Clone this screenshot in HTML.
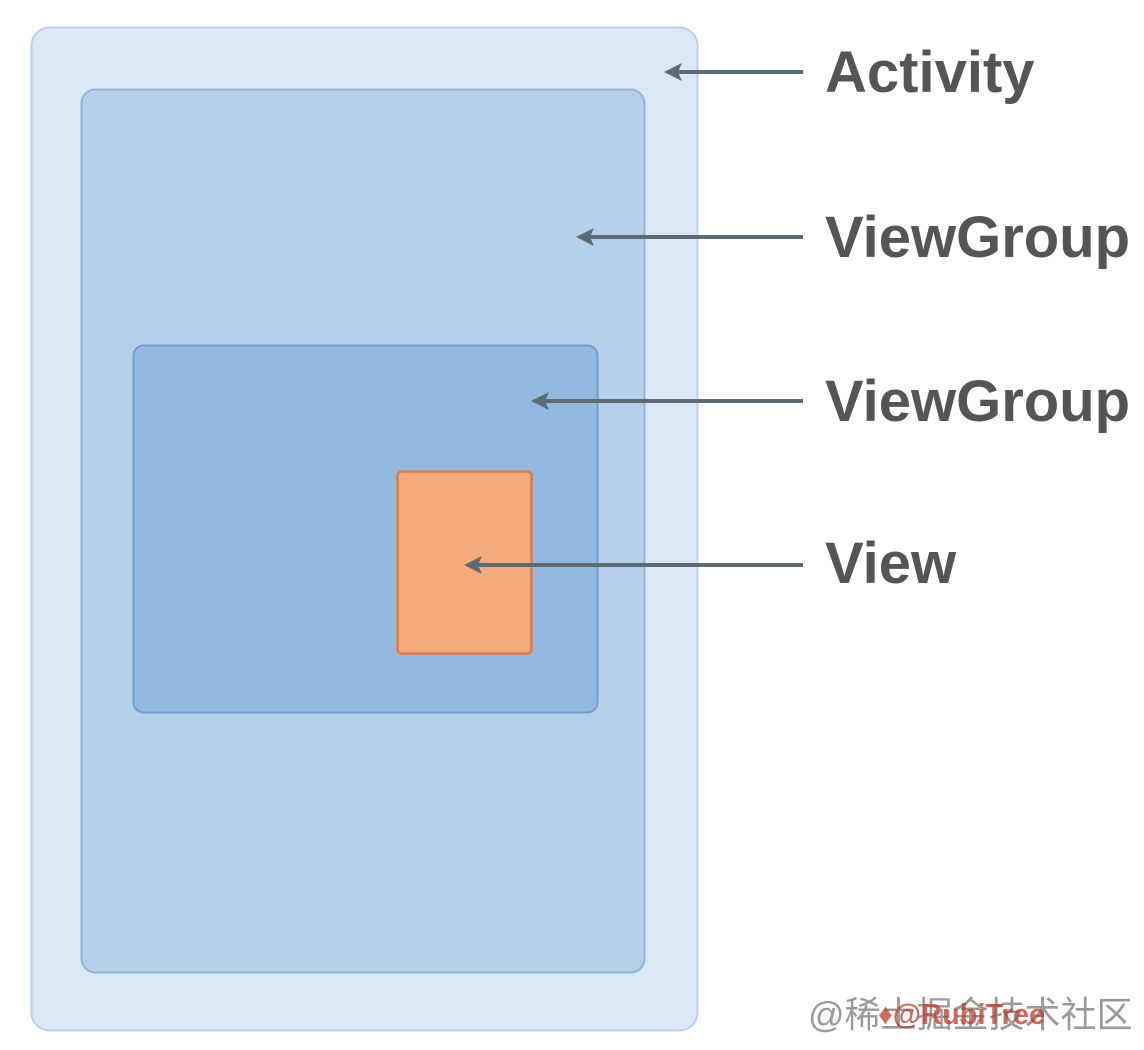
<!DOCTYPE html>
<html><head><meta charset="utf-8"><style>
html,body{margin:0;padding:0;background:#fff;}
svg{display:block;}
</style></head><body>
<svg width="1144" height="1050" viewBox="0 0 1144 1050" xmlns="http://www.w3.org/2000/svg">
<rect x="31.5" y="27.5" width="666" height="1003" rx="18" fill="#dce8f5" stroke="#b9d1ec" stroke-width="2"/>
<rect x="81.5" y="89.5" width="563" height="883" rx="14" fill="#b6d0ea" stroke="#90b5dc" stroke-width="2"/>
<rect x="133.5" y="345.5" width="464" height="367" rx="10" fill="#93b9e1" stroke="#6f9dcf" stroke-width="2"/>
<rect x="397.5" y="471.5" width="134" height="182" rx="4" fill="#f4aa7a" stroke="#e07c3e" stroke-width="2.5"/>
<g stroke="#5f6b73" stroke-width="4" fill="none">
<line x1="803" y1="72" x2="672" y2="72"/>
<line x1="803" y1="237" x2="584" y2="237"/>
<line x1="803" y1="401" x2="539" y2="401"/>
<line x1="803" y1="565" x2="472" y2="565"/>
</g>
<g fill="#5f6b73">
<path d="M664,72 L682,63 L678,72 L682,81 Z"/>
<path d="M576,237 L594,228 L590,237 L594,246 Z"/>
<path d="M531,401 L549,392 L545,401 L549,410 Z"/>
<path d="M464,565 L482,556 L478,565 L482,574 Z"/>
</g>
<g font-family="Liberation Sans, sans-serif" font-weight="bold" font-size="58" fill="#555557">
<text x="825" y="92">Activity</text>
<text x="825" y="257">ViewGroup</text>
<text x="825" y="421">ViewGroup</text>
<text x="825" y="583">View</text>
</g>
<text x="808" y="1027" font-family="Liberation Sans, 'Noto Sans CJK SC', sans-serif" font-size="36" fill="#9a9a9a">@稀土掘金技术社区</text>
<text x="878" y="1024" font-family="Liberation Sans, sans-serif" font-weight="bold" font-size="29" fill="#c0392b" opacity="0.75">♦@RubiTree</text>
</svg>
</body></html>
